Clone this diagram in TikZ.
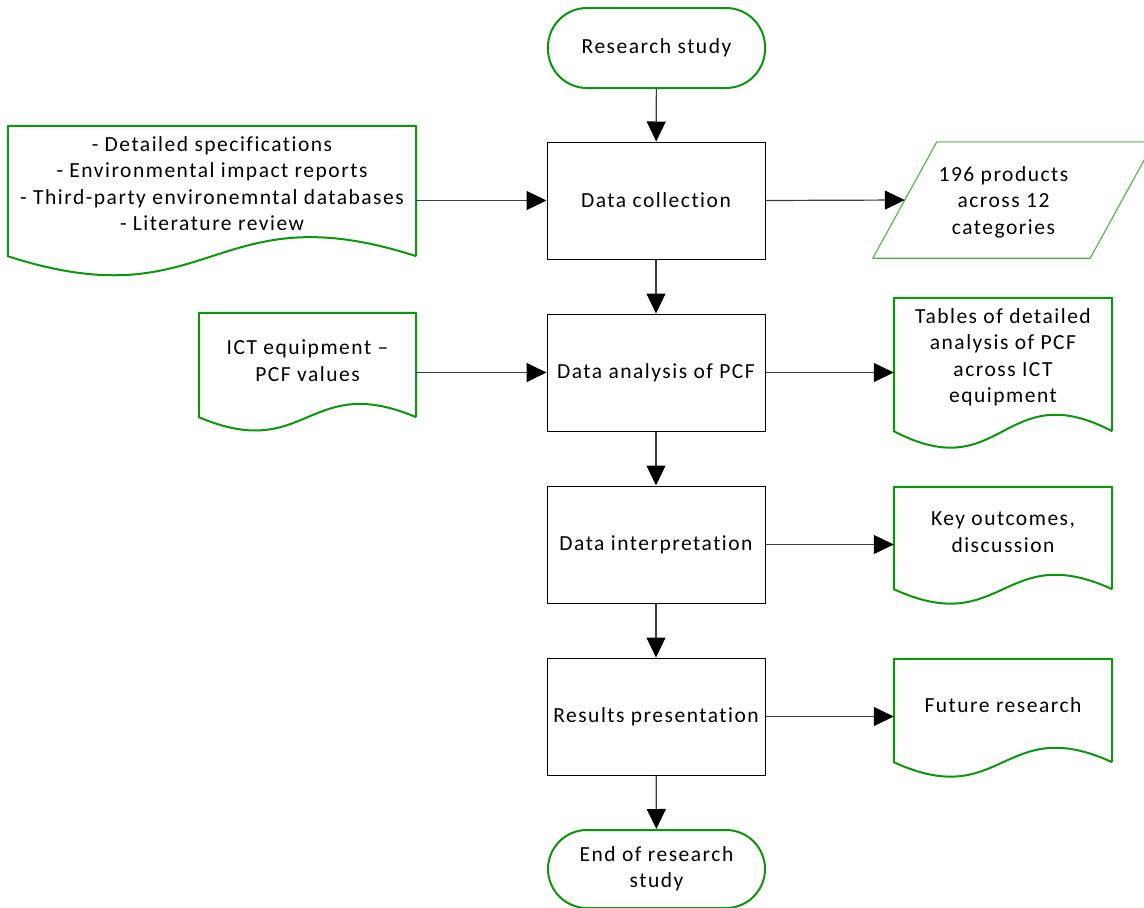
\documentclass[tikz,border=0pt]{standalone}
\usepackage{fontspec}
\setmainfont[LetterSpace=7,Ligatures=NoCommon]{Carlito}
\usetikzlibrary{arrows.meta,calc}
\definecolor{docgreen}{RGB}{12,150,12}
\definecolor{iogreen}{RGB}{80,180,60}
\definecolor{linegray}{RGB}{60,60,60}
\tikzset{
  txt/.style={font=\fontsize{21.5}{26.5}\selectfont, align=center, text=black},
  stepbox/.style={draw=black, line width=1pt, minimum width=218pt, minimum height=117pt, txt},
  term/.style={draw=docgreen, line width=2pt, rounded corners=39pt, minimum width=217pt, txt},
  docnode/.style={draw=none, inner sep=0pt},
  docline/.style={draw=docgreen, line width=2pt, line join=round},
  conn/.style={draw=linegray, line width=1.2pt, -{Triangle[length=20pt,width=19pt,fill=black,color=black]}},
}
\newcommand{\docshape}[2]{%
  \draw[docline] (#1.south east) -- (#1.north east) -- (#1.north west) -- (#1.south west)
    .. controls ($(#1.south)+(0,#2)$) and ($(#1.south)+(0,-#2)$) .. (#1.south east);}
\begin{document}
\begin{tikzpicture}[x=1pt,y=-1pt]
\useasboundingbox (0,0) rectangle (1144,908);
\clip (0,0) rectangle (1144,908);
\fill[white] (0,0) rectangle (1144,908);
% main column
\node[term, minimum height=80pt] (start) at (656.5,48) {Research study};
\node[stepbox] (dc) at (656,200.5) {Data collection};
\node[stepbox] (da) at (656,372.5) {Data analysis of PCF};
\node[stepbox] (di) at (656,544.5) {Data interpretation};
\node[stepbox] (rp) at (656,716.5) {Results presentation};
\node[term, minimum height=78pt] (end) at (656.5,869) {End of research\\study};
% documents
\node[docnode, minimum width=408pt, minimum height=130pt,
  label={[txt, yshift=7.5pt]center:{- Detailed specifications\\- Environmental impact reports\\- Third-party environemntal databases\\- Literature review}}] (d1) at (212,191) {};
\docshape{d1}{66}
\node[docnode, minimum width=217pt, minimum height=104pt,
  label={[txt, yshift=4.5pt]center:{ICT equipment --\\PCF values}}] (d2) at (307.5,365) {};
\docshape{d2}{46}
\node[docnode, minimum width=218pt, minimum height=133pt,
  label={[txt, yshift=7pt]center:{Tables of detailed\\analysis of PCF\\across ICT\\equipment}}] (d3) at (1003,364.5) {};
\docshape{d3}{57}
\node[docnode, minimum width=218pt, minimum height=102pt,
  label={[txt, yshift=6pt]center:{Key outcomes,\\discussion}}] (d4) at (1003,538) {};
\docshape{d4}{50}
\node[docnode, minimum width=218pt, minimum height=103pt,
  label={[txt, yshift=5.5pt]center:{Future research}}] (d5) at (1003,710.5) {};
\docshape{d5}{50}
% parallelogram
\node[docnode, minimum width=217pt, minimum height=116pt,
  label={[txt, xshift=-10pt, yshift=-2pt]center:{196 products\\across 12\\categories}}] (dp) at (1013.5,200) {};
\draw[iogreen, line width=1.1pt, line join=round]
  ($(dp.north west)+(32,0)$) -- ($(dp.north east)+(32,0)$) --
  ($(dp.south east)+(-32,0)$) -- ($(dp.south west)+(-32,0)$) -- cycle;
% connectors
\draw[conn] (start) -- (dc);
\draw[conn] (dc) -- (da);
\draw[conn] (da) -- (di);
\draw[conn] (di) -- (rp);
\draw[conn] (rp) -- (end);
\draw[conn] (d1.east |- dc.west) -- (dc.west);
\draw[conn] (d2.east |- da.west) -- (da.west);
\draw[conn] (dc.east) -- (dp.west);
\draw[conn] (da.east) -- (d3.west |- da.east);
\draw[conn] (di.east) -- (d4.west |- di.east);
\draw[conn] (rp.east) -- (d5.west |- rp.east);
\end{tikzpicture}
\end{document}
